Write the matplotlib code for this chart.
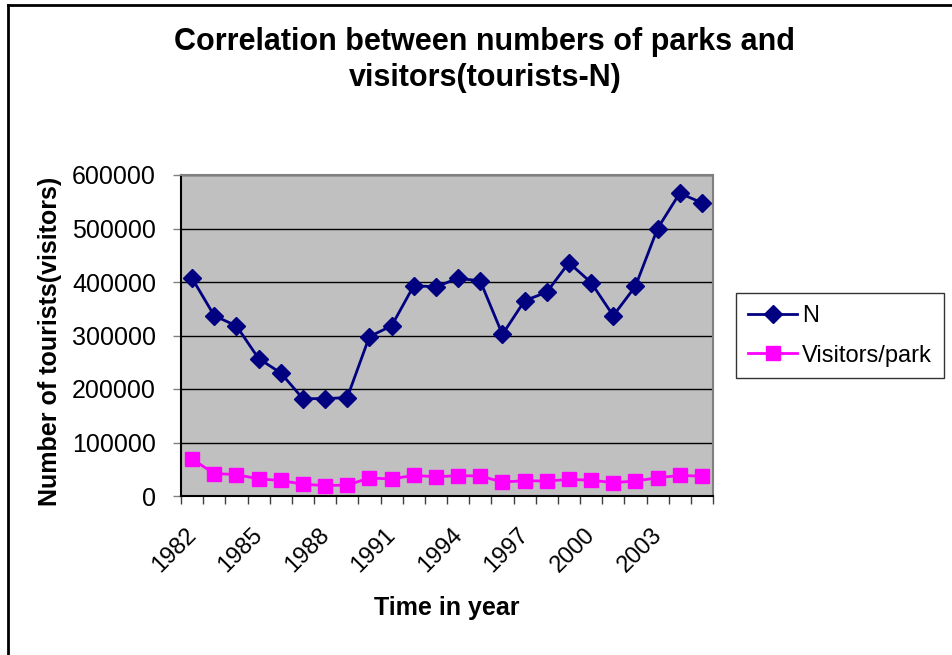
import numpy as np
import matplotlib
matplotlib.use("Agg")
import matplotlib.pyplot as plt
from matplotlib.lines import Line2D
from matplotlib.transforms import ScaledTranslation

plt.rcParams['font.family'] = ['Liberation Sans', 'DejaVu Sans']

# data
years = list(range(1982, 2006))
tourists_n = [407000, 337000, 318000, 257000, 230000, 182000, 182000, 184000,
              298000, 318000, 393000, 391000, 407000, 402000, 302000, 365000,
              381000, 436000, 399000, 337000, 392000, 500000, 566000, 548000]
visitors_per_park = [69000, 42000, 40000, 32000, 29000, 22000, 19500, 20500,
                     33500, 32000, 38500, 36000, 38000, 37500, 26000, 28500,
                     28000, 31000, 29500, 25000, 28000, 34000, 38500, 37000]
tick_years = [1982, 1985, 1988, 1991, 1994, 1997, 2000, 2003]

W, H = 952, 655
fig = plt.figure(figsize=(W / 100, H / 100), dpi=100)

# plot area in pixel coords
left, right, top, bottom = 181, 713, 175, 496
ax = fig.add_axes([left / W, 1 - bottom / H, (right - left) / W, (bottom - top) / H])
ax.set_facecolor('#C0C0C0')

x = np.arange(len(years))
ax.plot(x, tourists_n, color='#000080', lw=2, marker='D', markersize=9,
        label='N', zorder=3)
ax.plot(x, visitors_per_park, color='#FF00FF', lw=2, marker='s', markersize=10,
        label='Visitors/park', zorder=3)

ax.set_xlim(-0.5, len(years) - 0.5)
ax.set_ylim(0, 600000)

# y axis
ax.set_yticks(np.arange(0, 600001, 100000))
ax.yaxis.grid(True, color='#000000', lw=1)
ax.set_axisbelow(True)
ax.tick_params(axis='y', direction='out', length=6, width=1, pad=12,
               labelsize=18, color='#808080')

# x axis: tick marks between categories, labels at every third category
ax.set_xticks(np.arange(-0.5, len(years), 1.0))
ax.set_xticklabels([])
ax.tick_params(axis='x', which='major', direction='out', length=6, width=1,
               color='#404040')
label_pos = [years.index(y) for y in tick_years]
ax.set_xticks(label_pos, minor=True)
ax.set_xticklabels([str(y) for y in tick_years], minor=True, rotation=45,
                   ha='right', va='top', rotation_mode='anchor', fontsize=17)
ax.tick_params(axis='x', which='minor', length=0, pad=20)
shift = ScaledTranslation(-7 / 100, 0, fig.dpi_scale_trans)
for lab in ax.get_xticklabels(minor=True):
    lab.set_transform(lab.get_transform() + shift)

for s in ['left', 'bottom']:
    ax.spines[s].set_color('black')
    ax.spines[s].set_linewidth(1.5)
for s in ['top', 'right']:
    ax.spines[s].set_color('#808080')
    ax.spines[s].set_linewidth(1.5)

fig.text(485 / W, 1 - 60 / H, 'Correlation between numbers of parks and\nvisitors(tourists-N)',
         ha='center', va='center', fontsize=22, fontweight='bold', linespacing=1.25)
fig.text(50 / W, 1 - 341 / H, 'Number of tourists(visitors)', rotation=90,
         ha='center', va='center', fontsize=18, fontweight='bold')
fig.text(447 / W, 1 - 608 / H, 'Time in year', ha='center', va='center',
         fontsize=18, fontweight='bold')

leg = fig.legend(loc='upper left', bbox_to_anchor=(736 / W, 1 - 293 / H),
                 frameon=True, fancybox=False, edgecolor='black', fontsize=17,
                 handlelength=2.1, handletextpad=0.2, borderpad=0.5,
                 borderaxespad=0, labelspacing=0.75)
leg.get_frame().set_linewidth(1)

# outer chart border (left and top visible)
fig.add_artist(Line2D([7.5 / W, 7.5 / W], [0, 1 - 5 / H], transform=fig.transFigure,
                      color='black', lw=2))
fig.add_artist(Line2D([7.5 / W, 1], [1 - 5 / H, 1 - 5 / H], transform=fig.transFigure,
                      color='black', lw=2))

fig.savefig('out.png', dpi=100)
